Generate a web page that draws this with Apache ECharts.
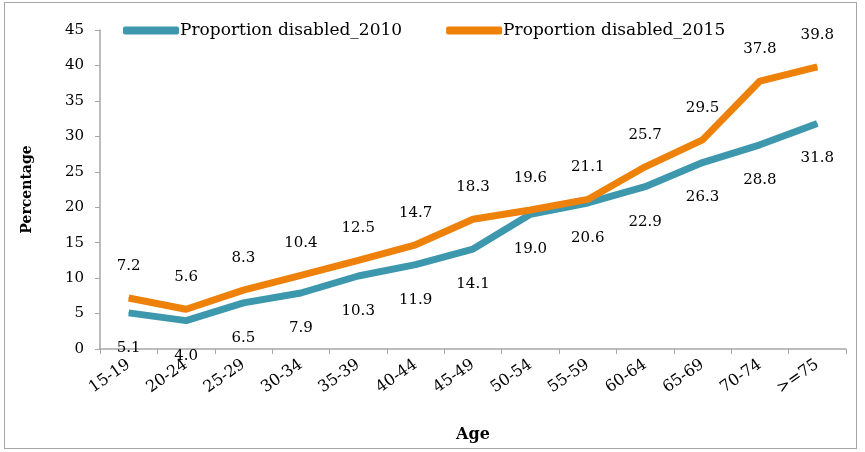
<!DOCTYPE html>
<html>
<head>
<meta charset="utf-8">
<script src="https://cdn.jsdelivr.net/npm/echarts@6/dist/echarts.min.js"></script>
<style>
  html, body { margin: 0; padding: 0; background: #fff; }
  #chart {
    position: absolute; left: 4px; top: 2px;
    width: 853px; height: 447px;
    border: 1px solid #a6a6a6; box-sizing: border-box;
  }
</style>
</head>
<body>
<div id="chart"></div>
<script>
var ageGroups = ["15-19", "20-24", "25-29", "30-34", "35-39", "40-44", "45-49", "50-54", "55-59", "60-64", "65-69", "70-74", ">=75"];
var disabled2010 = [5.1, 4.0, 6.5, 7.9, 10.3, 11.9, 14.1, 19.0, 20.6, 22.9, 26.3, 28.8, 31.8];
var disabled2015 = [7.2, 5.6, 8.3, 10.4, 12.5, 14.7, 18.3, 19.6, 21.1, 25.7, 29.5, 37.8, 39.8];
var yTicks = [0, 5, 10, 15, 20, 25, 30, 35, 40, 45];

var font = "'DejaVu Serif', 'Liberation Serif', serif";
var fs = 15;
var myChart = echarts.init(document.getElementById("chart"));

myChart.setOption({
  animation: false,
  textStyle: { fontFamily: font, color: "#000" },
  legend: {
    top: 14,
    left: 113,
    itemWidth: 56,
    itemHeight: 8,
    itemGap: 44,
    icon: "roundRect",
    textStyle: { fontFamily: font, fontSize: 17, color: "#000", padding: [9, 0, 0, -4] },
    data: ["Proportion disabled_2010", "Proportion disabled_2015"]
  },
  grid: {
    left: 95,
    right: 10,
    top: 27,
    bottom: 99,
    containLabel: false,
    outerBoundsMode: "none"
  },
  xAxis: {
    type: "category",
    data: ageGroups,
    boundaryGap: true,
    name: "Age",
    nameLocation: "middle",
    nameGap: 78,
    nameTextStyle: { fontFamily: font, fontSize: 16, fontWeight: "bold", color: "#000" },
    axisLine: { lineStyle: { color: "#a6a6a6", width: 1.5 } },
    axisTick: { show: true, alignWithLabel: false, length: 5, lineStyle: { color: "#a6a6a6" } },
    axisLabel: { rotate: 35, fontFamily: font, fontSize: 16, color: "#000", margin: 14, interval: 0 }
  },
  yAxis: {
    type: "value",
    min: 0,
    max: 45,
    interval: 5,
    name: "Percentage",
    nameLocation: "middle",
    nameGap: 66,
    nameTextStyle: { fontFamily: font, fontSize: 14, fontWeight: "bold", color: "#000" },
    splitLine: { show: false },
    axisLine: { show: true, lineStyle: { color: "#a6a6a6", width: 1.5 } },
    axisTick: { show: true, length: 5, inside: false, lineStyle: { color: "#a6a6a6" } },
    axisLabel: {
      fontFamily: font, fontSize: fs, color: "#000", margin: 16,
      formatter: function (v) { return yTicks.indexOf(v) >= 0 ? String(v) : ""; }
    }
  },
  series: [
    {
      name: "Proportion disabled_2010",
      type: "line",
      data: disabled2010,
      symbol: "circle",
      symbolSize: 1,
      showSymbol: true,
      itemStyle: { color: "#3e98ad" },
      lineStyle: { width: 7, color: "#3e98ad" },
      label: {
        show: true,
        position: "bottom",
        distance: 27,
        fontFamily: font,
        fontSize: fs,
        color: "#000",
        formatter: function (p) { return p.value.toFixed(1); }
      },
      labelLayout: { hideOverlap: false },
      z: 2
    },
    {
      name: "Proportion disabled_2015",
      type: "line",
      data: disabled2015,
      symbol: "circle",
      symbolSize: 1,
      showSymbol: true,
      itemStyle: { color: "#ee8109" },
      lineStyle: { width: 7, color: "#ee8109" },
      label: {
        show: true,
        position: "top",
        distance: 24,
        fontFamily: font,
        fontSize: fs,
        color: "#000",
        formatter: function (p) { return p.value.toFixed(1); }
      },
      labelLayout: { hideOverlap: false },
      z: 3
    }
  ]
});
</script>
</body>
</html>
